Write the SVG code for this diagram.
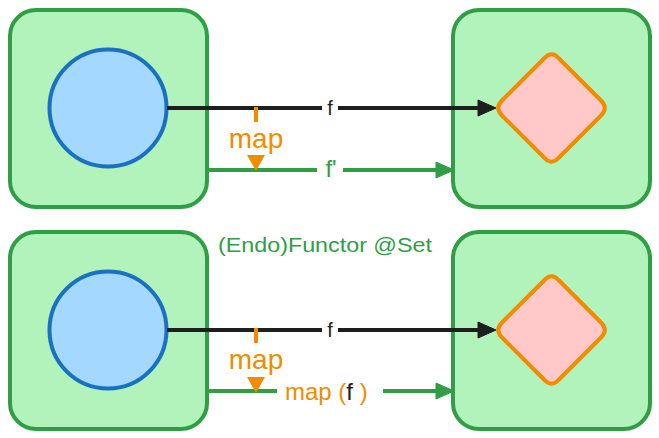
<svg xmlns="http://www.w3.org/2000/svg" width="659" height="438" viewBox="0 0 659 438">
<defs>
<style>
.box{fill:#b2f2bb;stroke:#2f9e44;stroke-width:4}
.circ{fill:#a5d8ff;stroke:#1971c2;stroke-width:4}
.dia{fill:#ffc9c9;stroke:#f08c00;stroke-width:4;stroke-linejoin:round}
.blk{stroke:#1e1e1e;stroke-width:4;fill:none}
.grn{stroke:#2f9e44;stroke-width:4;fill:none}
.org{stroke:#f08c00;stroke-width:4;fill:none}
text{font-family:"Liberation Sans",Arial,sans-serif}
.lf{font-size:20px;fill:#1e1e1e}
.lo{fill:#f08c00}
.lg{fill:#2f9e44}
</style>
</defs>

<g id="src1"><rect class="box" x="10" y="10" width="197" height="197" rx="26"/></g>
<g id="obj1"><circle class="circ" cx="108" cy="108" r="58.5"/></g>
<g id="dst1"><rect class="box" x="453" y="10" width="197" height="197" rx="26"/></g>
<g id="tgt1"><path class="dia" d="M544.5,58 Q551.5,50.5 558.5,58 L601,100.5 Q608.5,108 601,115.5 L558.5,158 Q551.5,165.5 544.5,158 L502,115.5 Q494.5,108 502,100.5 Z"/></g>

<g id="src2"><rect class="box" x="10" y="232" width="197" height="197" rx="26"/></g>
<g id="obj2"><circle class="circ" cx="108" cy="330" r="58.5"/></g>
<g id="dst2"><rect class="box" x="453" y="232" width="197" height="197" rx="26"/></g>
<g id="tgt2"><path class="dia" d="M544.5,280 Q551.5,272.5 558.5,280 L601,322.5 Q608.5,330 601,337.5 L558.5,380 Q551.5,387.5 544.5,380 L502,337.5 Q494.5,330 502,322.5 Z"/></g>

<g id="connectors">
<line class="blk" x1="167" y1="108" x2="322" y2="108"/>
<line class="blk" x1="338" y1="108" x2="480" y2="108"/>
<path d="M478,100 L496,108 L478,116 Z" fill="#1e1e1e" stroke="#1e1e1e" stroke-width="1" stroke-linejoin="round"/>
<text class="lf" x="330" y="115" text-anchor="middle">f</text>

<line class="grn" x1="207" y1="170" x2="317" y2="170"/>
<line class="grn" x1="343" y1="170" x2="440" y2="170"/>
<path d="M436,162 L454,170 L436,178 Z" fill="#2f9e44" stroke="#2f9e44" stroke-width="1" stroke-linejoin="round"/>
<text class="lg" x="331" y="177" font-size="24" text-anchor="middle">f'</text>

<line class="org" x1="256" y1="107" x2="256" y2="122"/>
<text class="lo" x="256" y="148" font-size="28" text-anchor="middle">map</text>
<path d="M247,155 L265,155 L256,171 Z" fill="#f08c00"/>

<line class="blk" x1="167" y1="330" x2="322" y2="330"/>
<line class="blk" x1="338" y1="330" x2="480" y2="330"/>
<path d="M478,322 L496,330 L478,338 Z" fill="#1e1e1e" stroke="#1e1e1e" stroke-width="1" stroke-linejoin="round"/>
<text class="lf" x="330" y="337" text-anchor="middle">f</text>

<line class="grn" x1="207" y1="391" x2="277" y2="391"/>
<line class="grn" x1="383" y1="391" x2="440" y2="391"/>
<path d="M436,383 L454,391 L436,399 Z" fill="#2f9e44" stroke="#2f9e44" stroke-width="1" stroke-linejoin="round"/>
<text x="285" y="400" font-size="24" class="lo">map (<tspan fill="#1e1e1e">f</tspan> )</text>

<line class="org" x1="256" y1="328" x2="256" y2="343"/>
<text class="lo" x="256" y="369" font-size="28" text-anchor="middle">map</text>
<path d="M247,377 L265,377 L256,393 Z" fill="#f08c00"/>
</g>

<text x="218" y="252" font-size="21" class="lg" textLength="214" lengthAdjust="spacingAndGlyphs">(Endo)Functor @Set</text>
</svg>
